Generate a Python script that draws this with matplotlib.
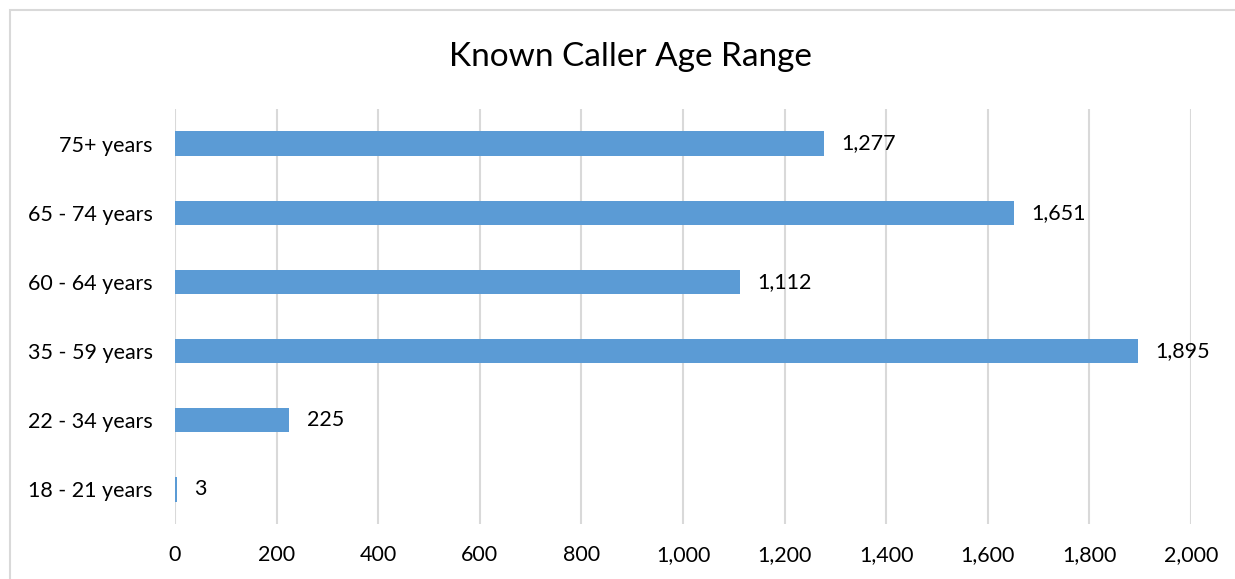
import matplotlib.pyplot as plt
from matplotlib.patches import Rectangle

categories = ['18 - 21 years', '22 - 34 years', '35 - 59 years',
              '60 - 64 years', '65 - 74 years', '75+ years']
callers = [3, 225, 1895, 1112, 1651, 1277]
x_ticks = [0, 200, 400, 600, 800, 1000, 1200, 1400, 1600, 1800, 2000]

plt.rcParams['font.family'] = ['Lato', 'DejaVu Sans']

fig = plt.figure(figsize=(12.35, 5.79), dpi=100)
ax = fig.add_axes([175 / 1235, 1 - 524 / 579, (1191 - 175) / 1235, (524 - 109) / 579])

# chart border, open at right and bottom like the source crop
fig.patches.append(Rectangle((10 / 1235, -0.1), 1.2, 1.1 - 10 / 579, transform=fig.transFigure,
                             fill=False, edgecolor='#D9D9D9', linewidth=1.5))

y = range(len(categories))
bars = ax.barh(y, callers, height=0.35, color='#5B9BD5', zorder=3)
for yi, v in zip(y, callers):
    ax.text(v + 34, yi, f'{v:,}', va='center', ha='left', fontsize=15.5, color='#000000')

ax.set_xlim(0, 2000)
ax.set_ylim(-0.5, len(categories) - 0.5)
ax.set_xticks(x_ticks)
ax.set_xticklabels([f'{t:,}' for t in x_ticks])
ax.set_yticks(list(y))
ax.set_yticklabels(categories)
ax.tick_params(axis='both', length=0, labelsize=15.5, colors='#000000')
ax.tick_params(axis='y', pad=16)
ax.tick_params(axis='x', pad=15)
ax.grid(axis='x', color='#D9D9D9', linewidth=1.5, zorder=0)
for s in ax.spines.values():
    s.set_visible(False)

fig.text(0.5105, 1 - 57 / 579, 'Known Caller Age Range',
         ha='center', va='center', fontsize=24, color='#000000')

fig.savefig('out.png', dpi=100)
